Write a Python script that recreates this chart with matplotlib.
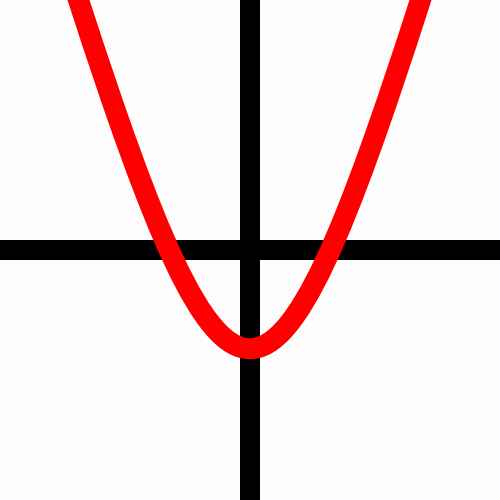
import matplotlib
matplotlib.use("Agg")
import matplotlib.pyplot as plt
from matplotlib.path import Path
from matplotlib.patches import PathPatch

# canvas in pixel-like units, origin at the centre
x_range = [-250, 250]
y_range = [-250, 250]

# axis lines through the origin
h_axis_x = [-250, 250]
h_axis_y = [0, 0]
v_axis_x = [0, 0]
v_axis_y = [-250, 250]

# curve drawn as one cubic bezier (start, control, control, end)
curve_x = [-171.5, -21.0, 21.0, 170.5]
curve_y = [250.0, -215.0, -215.0, 250.0]

DPI = 100
px = 72 / DPI  # points per pixel

fig = plt.figure(figsize=(5, 5), dpi=DPI, facecolor="#fdfdfd")
ax = fig.add_axes([0, 0, 1, 1])
ax.set_facecolor("#fdfdfd")
ax.set_xlim(x_range)
ax.set_ylim(y_range)
ax.axis("off")

ax.plot(h_axis_x, h_axis_y, color="black", linewidth=20 * px, solid_capstyle="butt", zorder=1)
ax.plot(v_axis_x, v_axis_y, color="black", linewidth=20 * px, solid_capstyle="butt", zorder=1)

codes = [Path.MOVETO, Path.CURVE4, Path.CURVE4, Path.CURVE4]
path = Path(list(zip(curve_x, curve_y)), codes)
ax.add_patch(PathPatch(path, facecolor="none", edgecolor="#ff0000",
                       linewidth=21 * px, capstyle="projecting", zorder=2))

fig.savefig("out.png", dpi=DPI, facecolor=fig.get_facecolor())
